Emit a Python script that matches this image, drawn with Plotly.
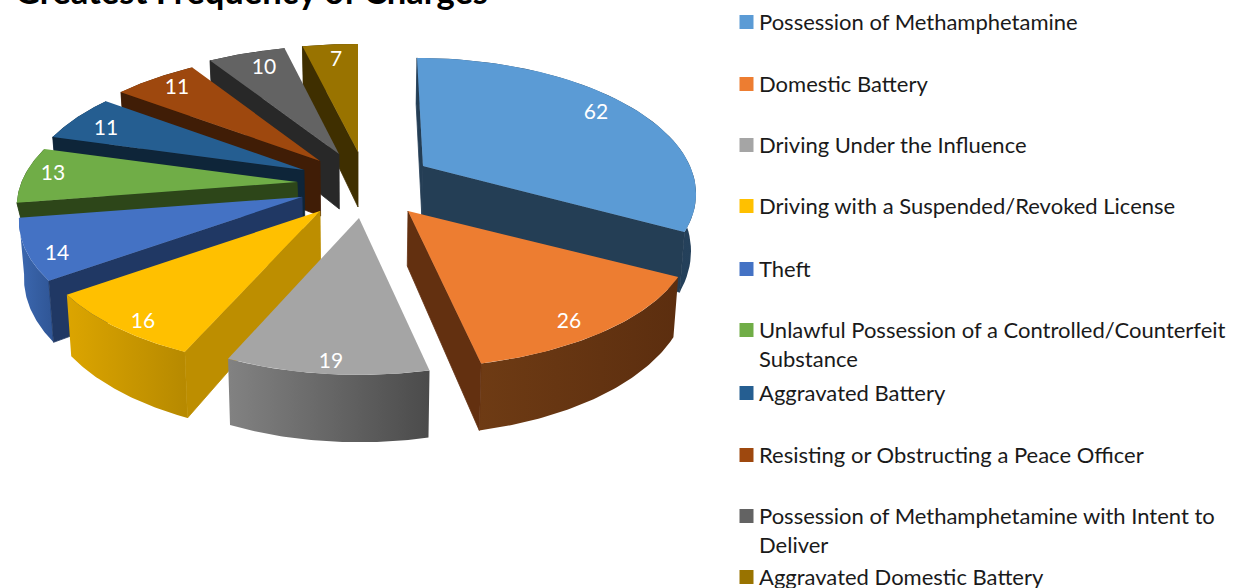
import numpy as np
import plotly.graph_objects as go

# --- data ---
categories = [
    "Possession of Methamphetamine", "Domestic Battery", "Driving Under the Influence",
    "Driving with a Suspended/Revoked License", "Theft",
    "Unlawful Possession of a Controlled/Counterfeit<br>Substance", "Aggravated Battery",
    "Resisting or Obstructing a Peace Officer",
    "Possession of Methamphetamine with Intent to<br>Deliver", "Aggravated Domestic Battery",
]
values = [62, 26, 19, 16, 14, 13, 11, 11, 10, 7]
title_text = "Greatest Frequency of Charges"

# --- style ---
top_colors = ["#5b9bd5", "#ed7d31", "#a5a5a5", "#ffc000", "#4472c4", "#70ad47", "#255e91", "#9e480e", "#636363", "#997300"]
edge_colors = ["#243e55", "#633010", "#666666", "#bd8e00", "#203864", "#2d4619", "#0e2539", "#401d06", "#282828", "#3f2f00"]
arc_left = ["#2a4a68", "#6e3b14", "#828282", "#dca500", "#3c68b0", "#2d4619", "#0e2539", "#401d06", "#282828", "#3f2f00"]
arc_right = ["#24405a", "#5c2e0f", "#4b4b4b", "#b68900", "#2f5595", "#2d4619", "#0e2539", "#401d06", "#282828", "#3f2f00"]

# --- layout of the exploded slices (pixels on the hidden axes) ---
apex_x = [423, 408, 359, 320, 302, 297, 304, 320, 339, 358]
apex_y = [166, 211, 218, 211, 197, 182, 170, 161, 154, 152]
radius_scale = [0.94, 0.985, 0.95, 0.98, 0.98, 0.97, 0.965, 0.97, 0.98, 1.0]
lean = [-0.025, 0, 0, 0, 0, 0, 0, 0, 0, 0]
wall_depth = [55, 55, 55, 55, 55, 20, 55, 55, 55, 55]
draw_order = [0, 9, 8, 7, 6, 5, 4, 1, 3, 2]
RX, RY, PERSP, SHRINK, MID_X = 284, 128, 0.184, 0.985, 360
label_x = [596, 569, 331, 143, 57, 53, 106, 177, 264, 336]
label_y = [114, 323, 363, 323, 255, 175, 130, 89, 69, 61]
legend_marker_y = [22, 84, 145, 206, 269, 330, 393, 455, 516, 577]
legend_text_shift = -1
legend_line_gap = 29
LEGEND_SIZE = 22
LABEL_SIZE = 21
FONT = "Lato"


def project(i, angle, r=1.0):
    """Top-face point of slice i at clockwise angle (radians from 12 o'clock)."""
    X, Y = r * np.sin(angle), r * np.cos(angle)
    s = 1.0 / (1.0 + PERSP * Y)
    k = radius_scale[i]
    return apex_x[i] + RX * k * X * s + RX * lean[i] * Y * s, apex_y[i] - RY * Y * s, s


def drop(i, x, y, s):
    """Same point on the bottom face."""
    return MID_X + (x - MID_X) * SHRINK, y + wall_depth[i] * s


def poly(xs, ys, line=None, **kw):
    xs = list(xs) + [xs[0]]
    ys = list(ys) + [ys[0]]
    return go.Scatter(x=xs, y=ys, mode="lines", fill="toself",
                      line=line if line else dict(width=0),
                      hoverinfo="skip", showlegend=False, **kw)


total = sum(values)
bounds = np.concatenate([[0], np.cumsum(values)]) / total * 2 * np.pi

fig = go.Figure()
for i in draw_order:
    a0, a1 = bounds[i], bounds[i + 1]
    arc = np.linspace(a0, a1, 60)
    ax, ay, s = project(i, arc)
    cx, cy, cs = project(i, 0.0, 0.0)
    bx, by = drop(i, ax, ay, s)
    bcx, bcy = drop(i, cx, cy, cs)
    # outer wall, with Excel-like horizontal shading
    fig.add_trace(poly(np.r_[ax, bx[::-1]], np.r_[ay, by[::-1]],
                       fillgradient=dict(type="horizontal",
                                         colorscale=[[0, arc_left[i]], [1, arc_right[i]]])))
    # radial walls that face the viewer (the outline hides the seam against the outer wall)
    mx, my = ax[30] - cx, ay[30] - cy
    for j in (0, -1):
        dx, dy = ax[j] - cx, ay[j] - cy
        if (dx * my - dy * mx) * dx < 0:
            fig.add_trace(poly([cx, ax[j], bx[j], bcx], [cy, ay[j], by[j], bcy], fillcolor=edge_colors[i],
                               line=dict(width=0.8, color=edge_colors[i])))
    # top face
    fig.add_trace(poly(np.r_[cx, ax], np.r_[cy, ay], fillcolor=top_colors[i]))

# data labels
fig.add_trace(go.Scatter(x=label_x, y=label_y, mode="text", text=[str(v) for v in values],
                         textposition="middle center",
                         textfont=dict(family=FONT, size=LABEL_SIZE, color="white"),
                         hoverinfo="skip", showlegend=False))

# legend
fig.add_trace(go.Scatter(x=[746.5] * len(categories), y=legend_marker_y, mode="markers",
                         marker=dict(symbol="square", size=14, color=top_colors, line=dict(width=0)),
                         text=categories, hoverinfo="text", showlegend=False))
annotations = []
for cat, y in zip(categories, legend_marker_y):
    for n, line in enumerate(cat.split("<br>")):
        annotations.append(dict(x=757, y=y + legend_text_shift + n * legend_line_gap, text=line, showarrow=False,
                                xanchor="left", yanchor="middle", xref="x", yref="y",
                                font=dict(family=FONT, size=LEGEND_SIZE, color="#1a1a1a")))
annotations.append(dict(x=13 / 1235, y=1 + 9 / 588, text="<b>" + title_text + "</b>", showarrow=False,
                        xanchor="left", yanchor="middle", xref="paper", yref="paper",
                        font=dict(family=FONT, size=34.6, color="black")))

fig.update_layout(
    width=1235, height=588, margin=dict(l=0, r=0, t=0, b=0),
    paper_bgcolor="white", plot_bgcolor="white", annotations=annotations,
    xaxis=dict(range=[0, 1235], visible=False, fixedrange=True),
    yaxis=dict(range=[588, 0], visible=False, fixedrange=True),
)
fig.write_html("out.html", config={"displayModeBar": False},
               post_script="document.body.style.margin='0';document.documentElement.style.overflow='hidden';")
